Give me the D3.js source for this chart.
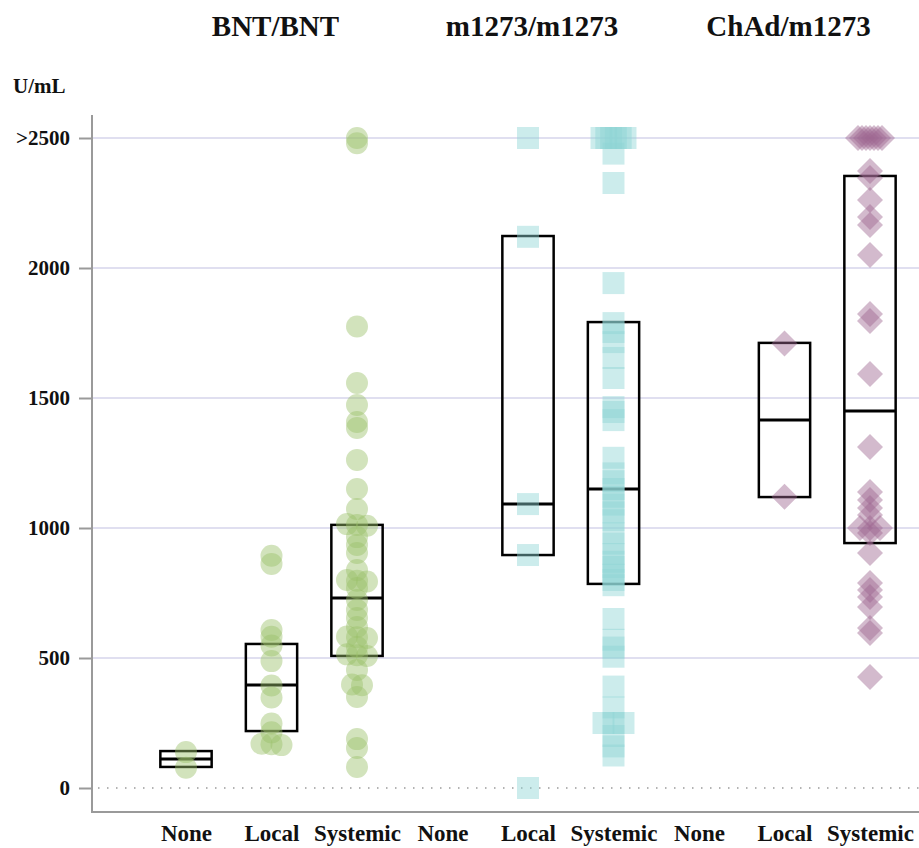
<!DOCTYPE html>
<html>
<head>
<meta charset="utf-8">
<script src="https://cdn.jsdelivr.net/npm/d3@7"></script>
<style>
  body { margin: 0; background: #fff; }
  svg { display: block; font-family: "Liberation Serif", "DejaVu Serif", serif; font-weight: bold; }
</style>
</head>
<body>
<svg id="chart"></svg>
<script>
var groups = ['BNT/BNT', 'm1273/m1273', 'ChAd/m1273'];
var categories = ['None', 'Local', 'Systemic'];
var yTicks = [0, 500, 1000, 1500, 2000, 2500];

// antibody values (U/mL), 2500 means >2500
var bntNone = [138, 78];
var bntLocal = [893, 862, 608, 582, 548, 488, 394, 348, 248, 214, 170, 168, 165];
var bntSystemic = [2500, 2480, 1775, 1558, 1473, 1408, 1385, 1262, 1150, 1073, 1015, 1012, 1009,
    965, 935, 904, 838, 800, 797, 794, 769, 723, 685, 654, 619, 583, 580, 577, 542, 514, 511, 508,
    454, 398, 395, 350, 188, 154, 81];
var modNone = [];
var modLocal = [2500, 2120, 1092, 896, 0];
var modSystemic = [2500, 2500, 2500, 2500, 2500, 2500, 2440, 2327, 1942, 1788, 1754, 1715, 1654,
    1577, 1465, 1446, 1415, 1270, 1210, 1180, 1150, 1120, 1090, 1060, 1030, 980, 940, 900, 870,
    850, 820, 800, 780, 650, 570, 540, 505, 390, 310, 250, 250, 250, 200, 160, 125];
var chadNone = [];
var chadLocal = [1710, 1120];
var chadSystemic = [2500, 2500, 2500, 2500, 2500, 2500, 2500, 2373, 2346, 2262, 2196, 2165, 2050,
    1823, 1796, 1592, 1312, 1138, 1108, 1077, 1050, 1000, 1000, 1000, 981, 904, 788, 762, 735,
    696, 615, 596, 427];

// boxes: [low, median, high]
var bntBoxes = [[81, 112, 142], [219, 396, 554], [508, 731, 1012]];
var modBoxes = [null, [896, 1092, 2123], [785, 1150, 1792]];
var chadBoxes = [null, [1119, 1415, 1712], [942, 1450, 2354]];

var groupPoints = [[bntNone, bntLocal, bntSystemic], [modNone, modLocal, modSystemic], [chadNone, chadLocal, chadSystemic]];
var groupBoxes = [bntBoxes, modBoxes, chadBoxes];
var groupColors = ['#9bc26b', '#8dd5d5', '#9d6591'];
var groupSymbols = [d3.symbolCircle, d3.symbolSquare, d3.symbolDiamond2];
var symbolSizes = [380, 484, 431];

var width = 919, height = 848;
var svg = d3.select('#chart').attr('width', width).attr('height', height);

var keys = [];
groups.forEach((g) => categories.forEach((c) => keys.push(g + '|' + c)));

var x = d3.scalePoint().domain(keys).range([186, 870]);
var y = d3.scaleLinear().domain([0, 2500]).range([788, 138]);
var boxWidth = x.step() * 0.6;

// grid
svg.append('g')
    .selectAll('line')
    .data(yTicks.filter(d => d > 0))
    .join('line')
    .attr('x1', 92).attr('x2', width)
    .attr('y1', d => y(d)).attr('y2', d => y(d))
    .attr('stroke', '#e0dff0').attr('stroke-width', 2);

svg.append('line')
    .attr('x1', 98).attr('x2', width)
    .attr('y1', y(0)).attr('y2', y(0))
    .attr('stroke', '#9a9a9a').attr('stroke-width', 1.5)
    .attr('stroke-dasharray', '1.5,7.5');

// y axis
var yAxis = svg.append('g')
    .attr('transform', 'translate(92,0)')
    .call(d3.axisLeft(y).tickValues(yTicks)
        .tickFormat(d => d === 2500 ? '>2500' : d)
        .tickSize(13).tickPadding(9));
yAxis.select('.domain').remove();
yAxis.selectAll('line').attr('stroke', '#9a9a9a').attr('stroke-width', 2);
yAxis.selectAll('text')
    .attr('font-family', '"Liberation Serif", serif')
    .attr('font-weight', 'bold')
    .attr('font-size', 21)
    .attr('fill', '#111');

svg.append('path')
    .attr('d', 'M92,115V812H' + width)
    .attr('fill', 'none')
    .attr('stroke', '#9a9a9a')
    .attr('stroke-width', 2);

svg.append('text')
    .attr('x', 13).attr('y', 93)
    .attr('font-size', 21)
    .attr('fill', '#111')
    .text('U/mL');

// x axis labels
var xAxis = svg.append('g')
    .attr('transform', 'translate(0,812)')
    .call(d3.axisBottom(x).tickSize(0).tickPadding(13).tickFormat(d => d.split('|')[1]));
xAxis.select('.domain').remove();
xAxis.selectAll('text')
    .attr('font-family', '"Liberation Serif", serif')
    .attr('font-weight', 'bold')
    .attr('font-size', 23)
    .attr('fill', '#111');

// group titles
svg.append('g')
    .selectAll('text')
    .data(groups)
    .join('text')
    .attr('x', d => x(d + '|Local') + 4)
    .attr('y', 36)
    .attr('text-anchor', 'middle')
    .attr('font-size', 29)
    .attr('fill', '#111')
    .text(d => d);

// spread points with (nearly) equal values sideways
function dodge (values) {
    var sorted = values.slice().sort((a, b) => b - a);
    var clusters = [];
    sorted.forEach((v) => {
        var last = clusters[clusters.length - 1];
        if (last && Math.abs(y(last[0]) - y(v)) <= 4) {
            last.push(v);
        } else {
            clusters.push([v]);
        }
    });
    var out = [];
    clusters.forEach((c) => {
        var spread = Math.min(24, (c.length - 1) * 10);
        c.forEach((v, i) => {
            var dx = c.length > 1 ? -spread / 2 + spread * i / (c.length - 1) : 0;
            out.push({value: v, dx: dx});
        });
    });
    return out;
}

groups.forEach((g, gi) => {
    categories.forEach((c, ci) => {
        var cx = x(g + '|' + c);
        var box = groupBoxes[gi][ci];
        if (box) {
            var bg = svg.append('g');
            bg.append('rect')
                .attr('x', cx - boxWidth / 2)
                .attr('width', boxWidth)
                .attr('y', y(box[2]))
                .attr('height', y(box[0]) - y(box[2]))
                .attr('fill', 'none')
                .attr('stroke', '#000')
                .attr('stroke-width', 2.5);
            bg.append('line')
                .attr('x1', cx - boxWidth / 2).attr('x2', cx + boxWidth / 2)
                .attr('y1', y(box[1])).attr('y2', y(box[1]))
                .attr('stroke', '#000')
                .attr('stroke-width', 3);
        }
    });
});

groups.forEach((g, gi) => {
    var symbol = d3.symbol().type(groupSymbols[gi]).size(symbolSizes[gi]);
    categories.forEach((c, ci) => {
        var cx = x(g + '|' + c);
        svg.append('g')
            .selectAll('path')
            .data(dodge(groupPoints[gi][ci]))
            .join('path')
            .attr('d', symbol)
            .attr('transform', d => `translate(${cx + d.dx},${y(d.value)})`)
            .attr('fill', groupColors[gi])
            .attr('fill-opacity', 0.45);
    });
});
</script>
</body>
</html>
